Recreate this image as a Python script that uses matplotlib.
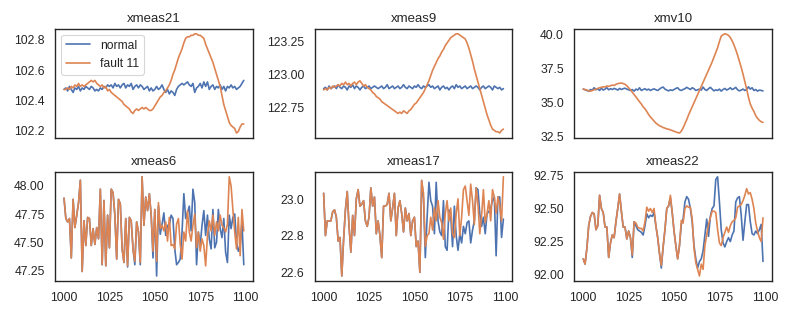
import numpy as np
import matplotlib
matplotlib.use("Agg")
import matplotlib.pyplot as plt
import seaborn as sns

x = list(range(1000, 1100))

xmeas21_normal = [
    102.47, 102.48, 102.46, 102.49, 102.47, 102.45, 102.48, 102.47, 102.49, 102.46,
    102.48, 102.47, 102.49, 102.48, 102.47, 102.49, 102.48, 102.46, 102.47, 102.46,
    102.48, 102.47, 102.49, 102.48, 102.50, 102.49, 102.50, 102.48, 102.51, 102.49,
    102.50, 102.48, 102.50, 102.51, 102.48, 102.50, 102.49, 102.51, 102.47, 102.49,
    102.50, 102.48, 102.50, 102.49, 102.47, 102.48, 102.49, 102.46, 102.48, 102.46,
    102.47, 102.49, 102.47, 102.48, 102.50, 102.47, 102.45, 102.47, 102.44, 102.46,
    102.45, 102.43, 102.47, 102.49, 102.50, 102.51, 102.50, 102.51, 102.52, 102.50,
    102.49, 102.51, 102.45, 102.48, 102.49, 102.51, 102.48, 102.52, 102.49, 102.52,
    102.47, 102.49, 102.50, 102.47, 102.49, 102.48, 102.50, 102.47, 102.49, 102.46,
    102.49, 102.48, 102.50, 102.48, 102.49, 102.47, 102.48, 102.49, 102.51, 102.53]
xmeas21_fault = [
    102.47, 102.47, 102.48, 102.47, 102.49, 102.48, 102.50, 102.49, 102.51, 102.49,
    102.50, 102.49, 102.50, 102.51, 102.52, 102.53, 102.52, 102.53, 102.51, 102.50,
    102.49, 102.50, 102.48, 102.49, 102.46, 102.47, 102.45, 102.44, 102.43, 102.42,
    102.41, 102.40, 102.39, 102.37, 102.36, 102.35, 102.34, 102.32, 102.31, 102.33,
    102.34, 102.33, 102.34, 102.35, 102.34, 102.35, 102.34, 102.33, 102.33, 102.34,
    102.36, 102.38, 102.40, 102.42, 102.43, 102.45, 102.46, 102.48, 102.50, 102.53,
    102.57, 102.60, 102.64, 102.68, 102.71, 102.74, 102.78, 102.81, 102.82, 102.82,
    102.83, 102.83, 102.84, 102.84, 102.83, 102.83, 102.82, 102.81, 102.77, 102.74,
    102.71, 102.68, 102.65, 102.61, 102.57, 102.53, 102.49, 102.43, 102.37, 102.33,
    102.29, 102.25, 102.23, 102.22, 102.21, 102.18, 102.19, 102.22, 102.24, 102.24]

xmeas9_normal = [
    122.89, 122.90, 122.88, 122.91, 122.89, 122.90, 122.91, 122.89, 122.92, 122.90,
    122.89, 122.91, 122.90, 122.88, 122.91, 122.90, 122.92, 122.89, 122.91, 122.90,
    122.88, 122.90, 122.91, 122.89, 122.90, 122.91, 122.89, 122.90, 122.91, 122.90,
    122.89, 122.90, 122.91, 122.89, 122.90, 122.92, 122.89, 122.90, 122.91, 122.89,
    122.90, 122.91, 122.89, 122.90, 122.92, 122.90, 122.89, 122.91, 122.90, 122.89,
    122.91, 122.90, 122.92, 122.90, 122.89, 122.91, 122.90, 122.91, 122.92, 122.90,
    122.91, 122.89, 122.90, 122.91, 122.88, 122.90, 122.91, 122.89, 122.90, 122.88,
    122.90, 122.91, 122.89, 122.92, 122.90, 122.91, 122.89, 122.90, 122.91, 122.89,
    122.90, 122.91, 122.89, 122.90, 122.91, 122.90, 122.88, 122.90, 122.91, 122.89,
    122.90, 122.91, 122.90, 122.88, 122.91, 122.90, 122.89, 122.90, 122.88, 122.89]
xmeas9_fault = [
    122.88, 122.89, 122.88, 122.90, 122.89, 122.91, 122.90, 122.91, 122.92, 122.91,
    122.93, 122.92, 122.94, 122.92, 122.93, 122.91, 122.93, 122.94, 122.92, 122.94,
    122.95, 122.93, 122.91, 122.92, 122.90, 122.89, 122.88, 122.86, 122.85, 122.83,
    122.82, 122.81, 122.79, 122.78, 122.77, 122.76, 122.75, 122.74, 122.73, 122.72,
    122.71, 122.70, 122.71, 122.70, 122.72, 122.71, 122.70, 122.72, 122.73, 122.75,
    122.77, 122.78, 122.80, 122.82, 122.84, 122.86, 122.89, 122.92, 122.95, 122.99,
    123.03, 123.06, 123.09, 123.12, 123.14, 123.17, 123.19, 123.22, 123.24, 123.26,
    123.28, 123.29, 123.30, 123.31, 123.31, 123.30, 123.29, 123.28, 123.27, 123.24,
    123.20, 123.15, 123.10, 123.04, 122.99, 122.94, 122.89, 122.84, 122.79, 122.74,
    122.69, 122.65, 122.61, 122.58, 122.57, 122.56, 122.56, 122.55, 122.57, 122.58]

xmv10_normal = [
    35.95, 35.90, 35.85, 35.80, 35.92, 35.88, 36.05, 35.90, 35.98, 35.85,
    36.02, 35.88, 35.95, 36.05, 35.90, 35.98, 35.92, 36.00, 35.95, 35.88,
    36.00, 35.92, 35.98, 36.02, 35.95, 35.90, 35.85, 35.92, 35.80, 35.95,
    35.88, 36.05, 35.85, 35.92, 35.98, 35.88, 35.95, 35.85, 35.92, 35.97,
    35.90, 35.85, 35.95, 36.05, 36.10, 35.95, 35.88, 35.82, 35.90, 35.85,
    35.92, 36.00, 36.05, 35.90, 35.85, 35.92, 35.98, 36.08, 36.00, 35.92,
    36.05, 35.98, 35.85, 35.90, 35.95, 35.88, 36.10, 35.92, 35.85, 35.98,
    36.08, 35.95, 35.82, 35.90, 35.85, 35.95, 35.80, 35.92, 36.00, 35.88,
    35.95, 36.05, 35.92, 35.98, 36.08, 35.90, 35.82, 35.88, 35.95, 35.85,
    35.92, 36.12, 35.95, 36.05, 35.85, 35.92, 35.80, 35.88, 35.85, 35.82]
xmv10_fault = [
    35.95, 35.92, 35.88, 35.82, 35.80, 35.85, 35.90, 35.95, 36.00, 36.05,
    36.08, 36.12, 36.10, 36.18, 36.15, 36.20, 36.25, 36.22, 36.30, 36.35,
    36.38, 36.40, 36.36, 36.30, 36.20, 36.05, 35.90, 35.72, 35.55, 35.38,
    35.20, 35.02, 34.85, 34.65, 34.50, 34.30, 34.08, 33.90, 33.75, 33.60,
    33.45, 33.35, 33.25, 33.20, 33.12, 33.08, 33.02, 33.00, 32.95, 32.90,
    32.85, 32.80, 32.75, 32.72, 32.85, 33.10, 33.40, 33.70, 34.05, 34.35,
    34.65, 34.95, 35.25, 35.55, 35.85, 36.15, 36.45, 36.75, 37.05, 37.35,
    37.65, 37.95, 38.30, 38.65, 39.00, 39.45, 39.85, 39.95, 40.02, 39.98,
    39.90, 39.75, 39.50, 39.20, 38.85, 38.45, 38.00, 37.55, 37.05, 36.50,
    35.95, 35.35, 34.85, 34.55, 34.30, 34.00, 33.80, 33.65, 33.55, 33.50]

xmeas6_normal = [
    47.89, 47.71, 47.68, 47.71, 47.36, 47.88, 47.63, 47.74, 47.85, 48.05,
    47.24, 47.69, 47.47, 47.72, 47.71, 47.47, 47.62, 47.48, 47.63, 47.53,
    47.97, 47.30, 47.87, 47.29, 47.74, 47.45, 47.97, 47.94, 47.74, 47.35,
    47.88, 47.84, 47.44, 47.32, 47.71, 47.28, 47.72, 47.69, 47.44, 47.30,
    47.68, 47.59, 47.30, 48.08, 47.65, 47.90, 47.78, 47.93, 47.74, 47.36,
    47.79, 47.20, 47.82, 47.57, 47.66, 47.76, 47.56, 47.65, 47.65, 47.74,
    47.71, 47.44, 47.30, 47.32, 47.35, 47.59, 47.93, 47.71, 47.76, 47.82,
    47.60, 47.97, 47.85, 47.30, 47.59, 47.47, 47.65, 47.78, 47.56, 47.74,
    47.53, 47.44, 47.79, 47.45, 47.50, 47.79, 47.62, 47.54, 47.71, 47.41,
    47.32, 47.74, 47.62, 47.72, 47.75, 47.50, 47.42, 47.47, 47.68, 47.30]
xmeas6_fault = [
    47.89, 47.71, 47.68, 47.71, 47.36, 47.88, 47.63, 47.74, 47.85, 48.05,
    47.24, 47.69, 47.47, 47.72, 47.71, 47.47, 47.62, 47.48, 47.63, 47.53,
    47.97, 47.30, 47.87, 47.29, 47.74, 47.45, 47.97, 47.94, 47.74, 47.35,
    47.88, 47.84, 47.44, 47.32, 47.71, 47.29, 47.72, 47.69, 47.44, 47.33,
    47.68, 47.59, 47.32, 48.08, 47.65, 47.90, 47.78, 47.93, 47.74, 47.42,
    47.79, 47.33, 47.85, 47.62, 47.65, 47.60, 47.68, 47.51, 47.72, 47.47,
    47.48, 47.44, 47.66, 47.71, 47.48, 47.35, 47.59, 47.51, 47.78, 47.59,
    47.51, 47.65, 47.75, 47.45, 47.59, 47.42, 47.53, 47.47, 47.29, 47.56,
    47.69, 47.60, 47.74, 47.56, 47.68, 47.60, 47.74, 47.65, 47.63, 47.59,
    47.66, 48.08, 48.00, 47.79, 47.59, 47.44, 47.72, 47.38, 47.79, 47.60]

xmeas17_normal = [
    23.03, 22.80, 22.88, 22.88, 22.88, 22.93, 22.94, 22.90, 22.77, 22.79,
    22.58, 22.78, 22.94, 23.04, 22.85, 22.71, 22.91, 22.80, 23.00, 23.05,
    22.96, 22.97, 22.99, 22.88, 22.85, 22.90, 23.06, 22.96, 23.01, 22.81,
    22.88, 22.80, 22.68, 22.96, 22.96, 22.97, 23.03, 22.88, 22.95, 23.03,
    22.80, 22.95, 22.99, 22.92, 22.82, 22.95, 22.88, 22.92, 22.80, 22.88,
    22.90, 22.74, 22.77, 22.60, 23.10, 23.00, 22.68, 22.90, 23.09, 22.99,
    22.96, 22.81, 23.09, 22.88, 22.82, 22.80, 22.99, 22.74, 22.72, 22.94,
    22.91, 22.74, 22.96, 22.80, 22.72, 22.81, 22.76, 22.85, 22.81, 22.87,
    22.88, 22.76, 22.83, 22.88, 23.06, 23.05, 22.92, 22.85, 22.90, 22.81,
    22.92, 22.93, 22.95, 22.99, 23.01, 22.69, 23.01, 23.01, 22.79, 22.89]
xmeas17_fault = [
    23.03, 22.80, 22.88, 22.88, 22.88, 22.93, 22.94, 22.90, 22.77, 22.79,
    22.58, 22.78, 22.94, 23.04, 22.85, 22.71, 22.91, 22.80, 23.00, 23.05,
    22.96, 22.97, 22.99, 22.88, 22.85, 22.90, 23.06, 22.96, 23.01, 22.81,
    22.88, 22.80, 22.68, 22.96, 22.96, 22.97, 23.03, 22.88, 22.95, 23.03,
    22.80, 22.95, 22.99, 22.92, 22.82, 22.95, 22.88, 22.92, 22.80, 22.88,
    22.90, 22.74, 22.77, 22.60, 23.10, 23.03, 22.74, 22.80, 22.81, 22.90,
    22.83, 22.95, 22.88, 22.99, 22.90, 22.87, 22.78, 22.92, 22.99, 22.88,
    22.95, 22.81, 22.79, 22.92, 23.00, 22.80, 22.90, 23.05, 23.07, 22.99,
    22.91, 23.08, 22.99, 22.86, 23.06, 22.97, 22.81, 22.91, 23.05, 22.87,
    22.92, 22.99, 22.88, 23.05, 23.01, 22.92, 23.01, 22.96, 22.88, 23.12]

xmeas22_normal = [
    92.12, 92.08, 92.20, 92.37, 92.44, 92.47, 92.46, 92.34, 92.37, 92.60,
    92.50, 92.47, 92.36, 92.36, 92.13, 92.24, 92.30, 92.28, 92.40, 92.50,
    92.61, 92.48, 92.36, 92.36, 92.27, 92.33, 92.28, 92.13, 92.40, 92.37,
    92.34, 92.33, 92.32, 92.30, 92.37, 92.46, 92.43, 92.45, 92.44, 92.47,
    92.37, 92.28, 92.16, 92.05, 92.21, 92.34, 92.50, 92.52, 92.58, 92.47,
    92.33, 92.22, 92.12, 92.22, 92.38, 92.42, 92.55, 92.59, 92.57, 92.50,
    92.40, 92.22, 92.12, 92.05, 92.10, 92.12, 92.18, 92.30, 92.42, 92.29,
    92.44, 92.50, 92.52, 92.72, 92.74, 92.55, 92.34, 92.24, 92.21, 92.25,
    92.28, 92.25, 92.30, 92.33, 92.55, 92.58, 92.59, 92.45, 92.26, 92.40,
    92.53, 92.53, 92.40, 92.31, 92.30, 92.33, 92.31, 92.34, 92.38, 92.10]
xmeas22_fault = [
    92.12, 92.08, 92.20, 92.37, 92.44, 92.47, 92.46, 92.34, 92.37, 92.60,
    92.50, 92.47, 92.36, 92.36, 92.13, 92.24, 92.30, 92.28, 92.40, 92.50,
    92.61, 92.48, 92.36, 92.36, 92.27, 92.33, 92.28, 92.15, 92.40, 92.39,
    92.36, 92.35, 92.35, 92.33, 92.40, 92.51, 92.48, 92.50, 92.47, 92.50,
    92.37, 92.28, 92.16, 92.07, 92.21, 92.34, 92.50, 92.52, 92.60, 92.47,
    92.33, 92.22, 92.12, 92.22, 92.41, 92.39, 92.50, 92.52, 92.51, 92.51,
    92.42, 92.20, 92.09, 92.04, 91.99, 92.08, 92.04, 92.22, 92.30, 92.38,
    92.43, 92.48, 92.48, 92.47, 92.34, 92.24, 92.22, 92.28, 92.32, 92.36,
    92.32, 92.37, 92.40, 92.41, 92.43, 92.51, 92.52, 92.53, 92.56, 92.60,
    92.65, 92.61, 92.62, 92.57, 92.50, 92.39, 92.33, 92.28, 92.25, 92.43]

titles = ["xmeas21", "xmeas9", "xmv10", "xmeas6", "xmeas17", "xmeas22"]
normal_series = [xmeas21_normal, xmeas9_normal, xmv10_normal,
                 xmeas6_normal, xmeas17_normal, xmeas22_normal]
fault_series = [xmeas21_fault, xmeas9_fault, xmv10_fault,
                xmeas6_fault, xmeas17_fault, xmeas22_fault]
labels = ["normal", "fault 11"]

sns.set_theme(style="white")
plt.rcParams["font.family"] = ["Liberation Sans", "DejaVu Sans"]

fig, axes = plt.subplots(2, 3, figsize=(10, 4), dpi=79.3, sharex=True)
fig.subplots_adjust(left=0.0694, right=0.9735, top=0.9085, bottom=0.1136,
                    wspace=0.313, hspace=0.31)

for ax, title, ns, fs in zip(axes.flat, titles, normal_series, fault_series):
    ax.plot(x, ns, color="#4C72B0", lw=1.5, label=labels[0])
    ax.plot(x, fs, color="#DD8452", lw=1.5, label=labels[1])
    ax.set_title(title)
    for s in ax.spines.values():
        s.set_color("#262626")

axes[0, 0].legend(loc="upper left")
axes[1, 0].set_xticks([1000, 1025, 1050, 1075, 1100])

fig.savefig("out.png", dpi=79.3)
